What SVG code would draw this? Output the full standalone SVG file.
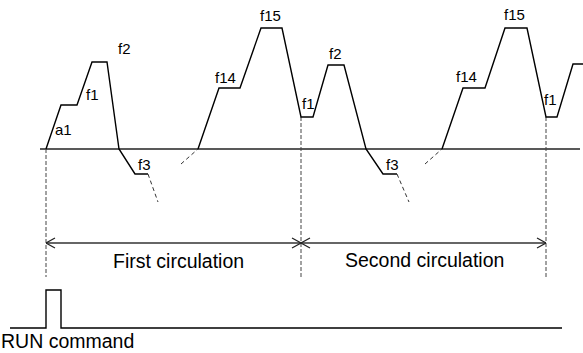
<svg xmlns="http://www.w3.org/2000/svg" width="583" height="353" viewBox="0 0 583 353">
<style>
.w{fill:none;stroke:#000;stroke-width:1.4;stroke-linejoin:miter}
.ax{fill:none;stroke:#222;stroke-width:1.5}
.d{fill:none;stroke:#333;stroke-width:1;stroke-dasharray:4 3}
.dv{fill:none;stroke:#444;stroke-width:1;stroke-dasharray:4 2}
.s{font-family:"Liberation Sans",Arial,sans-serif;font-size:15px;fill:#000}
.l{font-family:"Liberation Sans",Arial,sans-serif;font-size:19.5px;fill:#000}
.ar{fill:none;stroke:#333;stroke-width:1.5}
</style>
<defs>
<marker id="ah" viewBox="0 0 10 12" refX="10" refY="6" markerWidth="10" markerHeight="12" markerUnits="userSpaceOnUse" orient="auto-start-reverse">
<path d="M1,1 L10,6 L1,11" fill="none" stroke="#222" stroke-width="1.2"/>
</marker>
</defs>
<g id="connectors">
<line class="ax" x1="40" y1="149" x2="580" y2="149"/>
<line class="dv" x1="46" y1="149" x2="46" y2="277"/>
<line class="dv" x1="301" y1="117" x2="301" y2="277"/>
<line class="dv" x1="546" y1="117" x2="546" y2="277"/>
<line class="ar" x1="46" y1="243" x2="301" y2="243" marker-start="url(#ah)" marker-end="url(#ah)"/>
<line class="ar" x1="301" y1="243" x2="546" y2="243" marker-start="url(#ah)" marker-end="url(#ah)"/>
</g>
<g id="wave1">
<polyline class="w" points="46,149 61,105 77,105 92,62 107,62 119,149 135,174 148,174"/>
<line class="d" x1="148" y1="174" x2="158" y2="202"/>
<text class="s" x="55" y="135">a1</text>
<text class="s" x="86" y="100">f1</text>
<text class="s" x="118" y="54">f2</text>
<text class="s" x="138" y="170">f3</text>
</g>
<g id="wave2">
<line class="d" x1="181" y1="164" x2="198" y2="149"/>
<polyline class="w" points="198,149 219,88 240,88 261,28 282,28 301,117 313,117 328,65 344,65 366,149 383,174 397,174"/>
<line class="d" x1="397" y1="174" x2="409" y2="202"/>
<text class="s" x="215" y="83">f14</text>
<text class="s" x="260" y="21">f15</text>
<text class="s" x="302" y="109">f1</text>
<text class="s" x="329" y="59">f2</text>
<text class="s" x="386" y="170">f3</text>
</g>
<g id="wave3">
<line class="d" x1="425" y1="164" x2="442" y2="149"/>
<polyline class="w" points="442,149 463,88 485,88 505,28 527,28 546,117 557,117 573,64 583,64"/>
<text class="s" x="456" y="82">f14</text>
<text class="s" x="504" y="20">f15</text>
<text class="s" x="544" y="105">f1</text>
</g>
<g id="labels">
<text class="l" x="113" y="268">First circulation</text>
<text class="l" x="345" y="267">Second circulation</text>
</g>
<g id="run">
<polyline class="w" points="10,328 46,328 46,290 61,290 61,328 562,328"/>
<text class="l" x="1" y="348">RUN command</text>
</g>
</svg>
